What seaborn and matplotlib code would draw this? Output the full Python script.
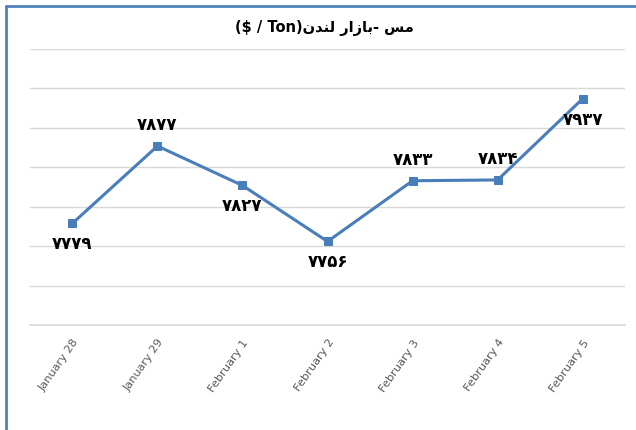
import matplotlib
matplotlib.use("Agg")
import matplotlib.pyplot as plt
from matplotlib.lines import Line2D
import pandas as pd
import seaborn as sns

# data
dates = ["January 28", "January 29", "February 1", "February 2",
         "February 3", "February 4", "February 5"]
prices = [7779, 7877, 7827, 7756, 7833, 7834, 7937]
label_above = [False, True, False, False, True, True, False]

# title, written in visual order with Arabic presentation forms
# (matplotlib has no Arabic shaping / bidi)
title_text = "($ / Ton)" + "\uFEE5\uFEAA\uFEE8\uFEDF" + " " + \
    "\uFEAD\uFE8D\uFEAF\uFE8E\uFE91" + "- " + "\uFEB2\uFEE3"

persian_digits = str.maketrans("0123456789", "۰۱۲۳۴۵۶۷۸۹")

df = pd.DataFrame({"date": dates, "price": prices})

sns.set_theme(style="white")
plt.rcParams["font.family"] = ["DejaVu Sans"]

line_color = "#4a7ebb"

fig = plt.figure(figsize=(6.36, 4.30), dpi=100)
ax = fig.add_axes([0.047, 0.244, 0.936, 0.642])

sns.lineplot(data=df, x="date", y="price", sort=False, ax=ax,
             color=line_color, linewidth=2.2, marker="s", markersize=5.5,
             markeredgecolor=line_color, markerfacecolor=line_color)

ax.set_xlim(-0.5, len(dates) - 0.5)
ax.set_ylim(7650, 8000)
ax.set_yticks(range(7650, 8001, 50))
ax.set_yticklabels([])
ax.yaxis.grid(True, color="#d9d9d9", linewidth=1)
ax.xaxis.grid(False)
for side in ["top", "right", "left"]:
    ax.spines[side].set_visible(False)
ax.spines["bottom"].set_color("#d9d9d9")
ax.tick_params(axis="both", length=0)
ax.tick_params(axis="x", pad=9)
ax.set_xlabel("")
ax.set_ylabel("")

ax.set_xticks(range(len(dates)))
ax.set_xticklabels(dates, rotation=55, ha="right", rotation_mode="anchor",
                   fontsize=8.2, color="#595959")

for i, (v, up) in enumerate(zip(prices, label_above)):
    ax.annotate(str(v).translate(persian_digits), (i, v),
                xytext=(0, 15 if up else -15), textcoords="offset points",
                ha="center", va="center", fontsize=12, fontweight="bold",
                color="black")

fig.text(0.51, 0.935, title_text, ha="center", va="center",
         fontsize=10.5, fontweight="bold", color="black")

# blue frame on left and top, as in the cropped reference
fig.add_artist(Line2D([0.0095, 0.0095], [0, 0.986], transform=fig.transFigure,
                      color="#4f81bd", linewidth=2))
fig.add_artist(Line2D([0.0095, 1], [0.986, 0.986], transform=fig.transFigure,
                      color="#4f81bd", linewidth=2))

fig.savefig("out.png", dpi=100)
